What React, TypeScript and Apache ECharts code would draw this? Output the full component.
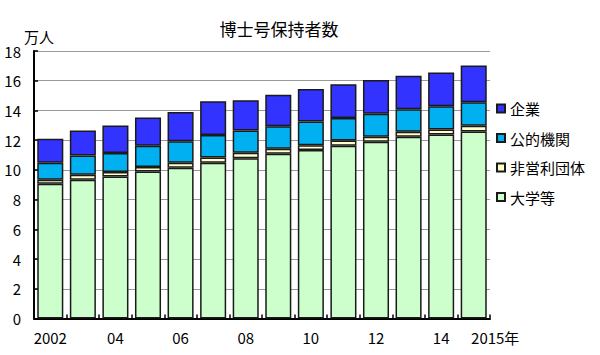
import React, { useEffect, useRef } from "react";
import * as echarts from "echarts";

const years = ["2002", "03", "04", "05", "06", "07", "08", "09", "10", "11", "12", "13", "14", "2015年"];
const daigaku = [9.07, 9.34, 9.56, 9.9, 10.15, 10.48, 10.79, 11.09, 11.33, 11.62, 11.89, 12.23, 12.38, 12.58];
const hieiri = [0.27, 0.34, 0.29, 0.29, 0.33, 0.36, 0.36, 0.33, 0.33, 0.36, 0.34, 0.33, 0.34, 0.39];
const koteki = [1.14, 1.29, 1.28, 1.43, 1.45, 1.5, 1.5, 1.52, 1.6, 1.52, 1.54, 1.52, 1.56, 1.58];
const kigyo = [1.61, 1.68, 1.86, 1.9, 1.97, 2.28, 2.04, 2.11, 2.19, 2.26, 2.28, 2.26, 2.28, 2.48];
const seriesNames = ["大学等", "非営利団体", "公的機関", "企業"];
const colors = ["#CCFFCC", "#FFFFCC", "#00B0F0", "#3333FF"];

const FONT = "'Noto Sans CJK JP', 'Noto Sans', sans-serif";

export default function App() {
  const ref = useRef<HTMLDivElement>(null);
  useEffect(() => {
    if (!ref.current) return;
    const chart = echarts.init(ref.current, null, { renderer: "svg" });
    const dataSets = [daigaku, hieiri, koteki, kigyo];
    chart.setOption({
      animation: false,
      backgroundColor: "#ffffff",
      textStyle: { fontFamily: FONT, color: "#000" },
      title: {
        text: "博士号保持者数",
        left: 279,
        textAlign: "center",
        top: 20,
        padding: 0,
        textStyle: { fontFamily: FONT, fontSize: 17, fontWeight: "normal", color: "#000" },
      },
      graphic: [
        {
          type: "text",
          left: 24,
          top: 29,
          style: { text: "万人", font: `15px ${FONT}`, fill: "#000" },
        },
      ],
      legend: {
        data: ["企業", "公的機関", "非営利団体", "大学等"],
        orient: "vertical",
        left: 496,
        top: 101,
        padding: 0,
        itemWidth: 8,
        itemHeight: 8,
        itemGap: 14.5,
        icon: "rect",
        textStyle: { fontFamily: FONT, fontSize: 15, color: "#000", lineHeight: 15 },
      },
      grid: { left: 34, right: 110, top: 51, bottom: 36.5, containLabel: false },
      xAxis: {
        type: "category",
        data: years,
        boundaryGap: true,
        axisLine: { show: true, lineStyle: { color: "#000", width: 2 } },
        axisTick: { show: true, inside: true, length: 4, interval: 0, lineStyle: { color: "#000", width: 1.5 } },
        axisLabel: {
          interval: (i: number) => i % 2 === 0 || i === years.length - 1,
          fontFamily: FONT,
          fontSize: 15,
          color: "#000",
          margin: 11,
          formatter: (v: string, i: number) => (i === years.length - 1 ? `{last|${v}}` : v),
          rich: { last: { fontFamily: FONT, fontSize: 15, color: "#000", padding: [0, 0, 0, 43] } },
        },
      },
      yAxis: {
        type: "value",
        min: 0,
        max: 18,
        interval: 2,
        axisLine: { show: true, lineStyle: { color: "#000", width: 2 } },
        axisTick: { show: true, inside: true, length: 4, lineStyle: { color: "#000", width: 1.5 } },
        axisLabel: { fontFamily: FONT, fontSize: 15, color: "#000", margin: 13 },
        splitLine: { show: true, lineStyle: { color: "#999", width: 1 } },
      },
      series: seriesNames.map((name, k) => ({
        name,
        type: "bar",
        stack: "total",
        data: dataSets[k],
        barCategoryGap: "20%",
        itemStyle: { color: colors[k], borderColor: "#1a1a1a", borderWidth: 1.5 },
      })),
    });
    return () => chart.dispose();
  }, []);
  return <div ref={ref} style={{ position: "fixed", left: 0, top: 0, width: 600, height: 355 }} />;
}
